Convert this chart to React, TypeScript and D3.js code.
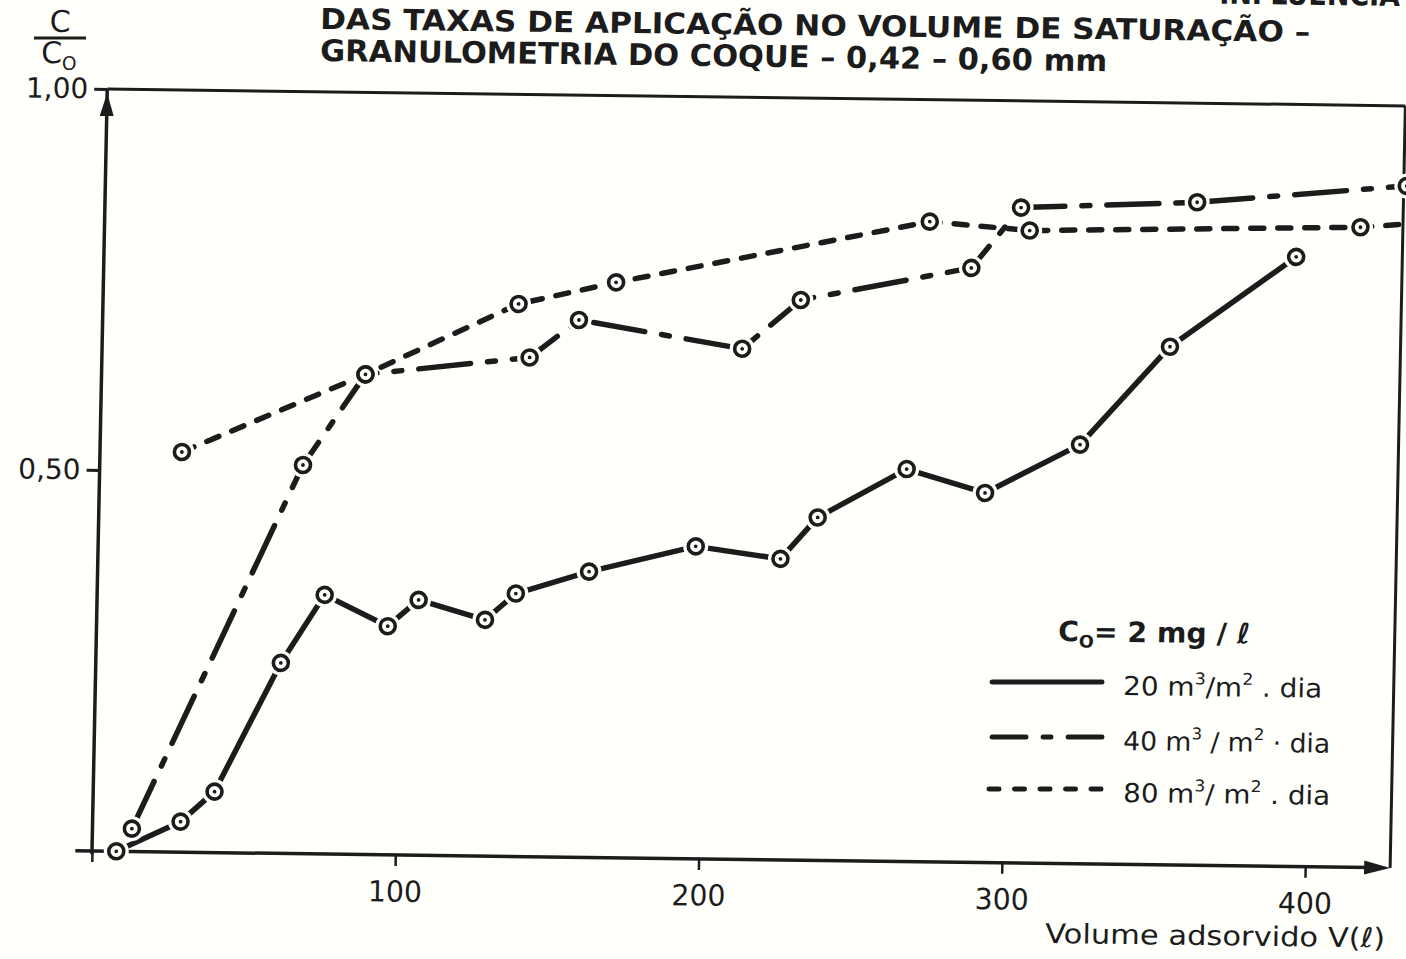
import { useEffect, useRef } from 'react';
import * as d3 from 'd3';

// C/Co x volume adsorvido, coque 0,42-0,60 mm, Co = 2 mg/l
const vol20 = [8, 29, 40, 61, 75, 96, 106, 128, 138, 162, 197, 225, 237, 266, 292, 323, 352, 393];
const ratio20 = [0.0, 0.04, 0.08, 0.25, 0.34, 0.3, 0.335, 0.31, 0.345, 0.375, 0.41, 0.395, 0.45, 0.515, 0.485, 0.55, 0.68, 0.8];

const vol40 = [13, 67, 87, 141, 157, 211, 230, 286, 302, 360, 429];
const ratio40 = [0.03, 0.51, 0.63, 0.655, 0.705, 0.67, 0.735, 0.78, 0.86, 0.87, 0.895];

// last 80 value is where the line runs out of the frame (no marker there)
const vol80 = [27, 87, 137, 169, 272, 305, 414, 429];
const ratio80 = [0.525, 0.63, 0.725, 0.755, 0.84, 0.83, 0.84, 0.845];

const xTickValues = [0, 100, 200, 300, 400];
const yTickValues = [0.5, 1];
const yTickLabels = ['0,50', '1,00'];

const rates = ['20', '40', '80'];
const rateSep = [['/', ' . '], [' / ', ' · '], ['/ ', ' . ']];

const INK = '#1c1c1c';
const FONT = '"DejaVu Sans", sans-serif';
const TITLE_FONT = '"DejaVu Sans Condensed", "DejaVu Sans", sans-serif';

type Part = [string, 'sup' | 'sub' | null];

function rich(sel: any, parts: Part[], size: number) {
  let shift = 0;
  parts.forEach(([t, kind]) => {
    const target = kind === 'sup' ? -0.45 * size : kind === 'sub' ? 0.22 * size : 0;
    sel.append('tspan')
      .attr('dy', target - shift)
      .attr('font-size', kind ? size * 0.62 : size)
      .text(t);
    shift = target;
  });
}

export default function App() {
  const ref = useRef<SVGSVGElement | null>(null);

  useEffect(() => {
    document.body.style.margin = '0';
    const svg = d3.select(ref.current);
    svg.selectAll('*').remove();

    const x = d3.scaleLinear().domain([0, 428]).range([92, 92 + 428 * 3.033]);
    const y = d3.scaleLinear().domain([0, 1]).range([851, 89]);

    // the scanned sheet is a little skewed: x axis drops to the right, y axis leans right
    const ox = x(0), oy = y(0);
    const kx = 0.013, ky = -0.02;
    const e = -ky * oy, f = -kx * ox;
    const det = 1 - kx * ky;
    const inv = (px: number, py: number) => [
      ((px - e) - ky * (py - f)) / det,
      ((py - f) - kx * (px - e)) / det,
    ];

    svg.append('rect').attr('width', 1406).attr('height', 959).attr('fill', '#fffffc');

    const g = svg.append('g').attr('transform', `matrix(1,${kx},${ky},1,${e},${f})`);

    // frame
    const xEnd = x(428);
    g.append('line')
      .attr('x1', x(-5.5)).attr('x2', xEnd - 20)
      .attr('y1', oy).attr('y2', oy)
      .attr('stroke', INK).attr('stroke-width', 3.5);
    g.append('path')
      .attr('d', `M${xEnd},${oy} L${xEnd - 26},${oy - 7} L${xEnd - 26},${oy + 7} Z`)
      .attr('fill', INK);
    g.append('line')
      .attr('x1', ox).attr('x2', ox)
      .attr('y1', y(-0.004)).attr('y2', y(1))
      .attr('stroke', INK).attr('stroke-width', 3.5);
    g.append('path')
      .attr('d', `M${ox},${y(1) + 4} L${ox - 7},${y(1) + 27} L${ox + 7},${y(1) + 27} Z`)
      .attr('fill', INK);
    g.append('line')
      .attr('x1', ox).attr('x2', xEnd)
      .attr('y1', y(1)).attr('y2', y(1))
      .attr('stroke', INK).attr('stroke-width', 3);
    g.append('line')
      .attr('x1', xEnd).attr('x2', xEnd)
      .attr('y1', y(1)).attr('y2', oy)
      .attr('stroke', INK).attr('stroke-width', 3);

    // axes
    const xAxis = g.append('g')
      .attr('transform', `translate(0,${oy})`)
      .call(d3.axisBottom(x).tickValues(xTickValues).tickSize(11).tickPadding(15)
        .tickFormat((d: any) => (d === 0 ? '' : String(d))));
    xAxis.select('.domain').remove();
    xAxis.selectAll('line').attr('stroke', INK).attr('stroke-width', 2.5);
    xAxis.selectAll('text')
      .attr('fill', INK).attr('font-size', 29).attr('font-family', FONT)
      .attr('textLength', 54).attr('lengthAdjust', 'spacingAndGlyphs');

    const yAxis = g.append('g')
      .attr('transform', `translate(${ox},0)`)
      .call(d3.axisLeft(y).tickValues(yTickValues).tickSize(13).tickPadding(6)
        .tickFormat((_d: any, i: number) => yTickLabels[i]));
    yAxis.select('.domain').remove();
    yAxis.selectAll('line').attr('stroke', INK).attr('stroke-width', 3);
    yAxis.selectAll('text')
      .attr('fill', INK).attr('font-size', 28).attr('font-family', FONT);

    // series
    const series = [
      { vol: vol20, c: ratio20, dash: null as string | null, marks: vol20.length },
      { vol: vol40, c: ratio40, dash: '52,17,8,17', marks: vol40.length },
      { vol: vol80, c: ratio80, dash: '13,14', marks: vol80.length - 1 },
    ];

    const lineGen = d3.line<[number, number]>().x(d => x(d[0])).y(d => y(d[1]));
    const plot = g.append('g');
    series.forEach(s => {
      const pts = s.vol.map((v, i) => [v, s.c[i]] as [number, number]);
      plot.append('path')
        .attr('d', lineGen(pts))
        .attr('fill', 'none')
        .attr('stroke', INK)
        .attr('stroke-width', 5.5)
        .attr('stroke-linecap', 'round')
        .attr('stroke-linejoin', 'round')
        .attr('stroke-dasharray', s.dash);
    });
    // white halo so the lines stop short of the markers, like the drawing
    series.forEach(s => {
      const pts = s.vol.slice(0, s.marks).map((v, i) => [v, s.c[i]] as [number, number]);
      plot.selectAll(null).data(pts).enter().append('circle')
        .attr('cx', d => x(d[0])).attr('cy', d => y(d[1]))
        .attr('r', 12.5).attr('fill', '#fffffc');
    });
    series.forEach(s => {
      const pts = s.vol.slice(0, s.marks).map((v, i) => [v, s.c[i]] as [number, number]);
      const m = plot.selectAll(null).data(pts).enter().append('g')
        .attr('transform', d => `translate(${x(d[0])},${y(d[1])})`);
      m.append('circle').attr('r', 7.5).attr('fill', '#fffffc')
        .attr('stroke', INK).attr('stroke-width', 3.6);
      m.append('circle').attr('r', 1.9).attr('fill', INK);
    });

    // titles (first line is cut by the page edge in the scan)
    const t0 = inv(1400, 6);
    g.append('text').attr('x', t0[0]).attr('y', t0[1])
      .attr('text-anchor', 'end').attr('font-family', TITLE_FONT)
      .attr('font-weight', 'bold').attr('font-size', 30).attr('fill', INK)
      .text('INFLUÊNCIA');
    const t1 = inv(320, 29);
    g.append('text').attr('x', t1[0]).attr('y', t1[1])
      .attr('font-family', TITLE_FONT).attr('font-weight', 'bold')
      .attr('font-size', 29).attr('fill', INK)
      .attr('textLength', 990).attr('lengthAdjust', 'spacingAndGlyphs')
      .text('DAS  TAXAS  DE  APLICAÇÃO  NO  VOLUME  DE  SATURAÇÃO –');
    const t2 = inv(320, 61);
    g.append('text').attr('x', t2[0]).attr('y', t2[1])
      .attr('font-family', TITLE_FONT).attr('font-weight', 'bold')
      .attr('font-size', 30).attr('fill', INK)
      .attr('textLength', 787).attr('lengthAdjust', 'spacingAndGlyphs')
      .text('GRANULOMETRIA  DO  COQUE  – 0,42 – 0,60 mm');

    // y label C / Co
    const c1 = inv(60, 32);
    g.append('text').attr('x', c1[0]).attr('y', c1[1])
      .attr('text-anchor', 'middle').attr('font-family', FONT)
      .attr('font-size', 30).attr('fill', INK).text('C');
    const b0 = inv(34, 38), b1 = inv(86, 38);
    g.append('line').attr('x1', b0[0]).attr('y1', b0[1]).attr('x2', b1[0]).attr('y2', b1[1])
      .attr('stroke', INK).attr('stroke-width', 3);
    const c2 = inv(41, 63);
    const co = g.append('text').attr('x', c2[0]).attr('y', c2[1])
      .attr('font-family', FONT).attr('font-size', 30).attr('fill', INK);
    rich(co, [['C', null], ['O', 'sub']], 30);

    // x label
    const xl = inv(1045, 943);
    g.append('text').attr('x', xl[0]).attr('y', xl[1])
      .attr('font-family', FONT).attr('font-size', 27).attr('fill', INK)
      .attr('textLength', 340).attr('lengthAdjust', 'spacingAndGlyphs')
      .text('Volume  adsorvido  V(ℓ)');

    // legend
    const lg = inv(1058, 641);
    const head = g.append('text').attr('x', lg[0]).attr('y', lg[1])
      .attr('font-family', FONT).attr('font-size', 28).attr('font-weight', 'bold').attr('fill', INK)
      .attr('textLength', 192).attr('lengthAdjust', 'spacingAndGlyphs');
    rich(head, [['C', null], ['O', 'sub'], ['= 2  mg / ℓ', null]], 28);

    const legendY = [682, 737, 789];
    const legendDash = [null, '34,17,8,17', '10,15.5'];
    const legendWidth = [199, 207, 207];
    rates.forEach((r, i) => {
      const a = inv(i === 2 ? 989 : 992, legendY[i]);
      const b = inv(1102, legendY[i]);
      g.append('line').attr('x1', a[0]).attr('y1', a[1]).attr('x2', b[0]).attr('y2', b[1])
        .attr('stroke', INK).attr('stroke-width', 5).attr('stroke-linecap', 'round')
        .attr('stroke-dasharray', legendDash[i]);
      const p = inv(1123, legendY[i] + 13);
      const t = g.append('text').attr('x', p[0]).attr('y', p[1])
        .attr('font-family', FONT).attr('font-size', 26).attr('fill', INK)
        .attr('textLength', legendWidth[i]).attr('lengthAdjust', 'spacingAndGlyphs');
      rich(t, [
        [`${r} m`, null], ['3', 'sup'], [`${rateSep[i][0]}m`, null], ['2', 'sup'], [`${rateSep[i][1]}dia`, null],
      ], 26);
    });
  }, []);

  return <svg ref={ref} width={1406} height={959} style={{ display: 'block' }} />;
}
